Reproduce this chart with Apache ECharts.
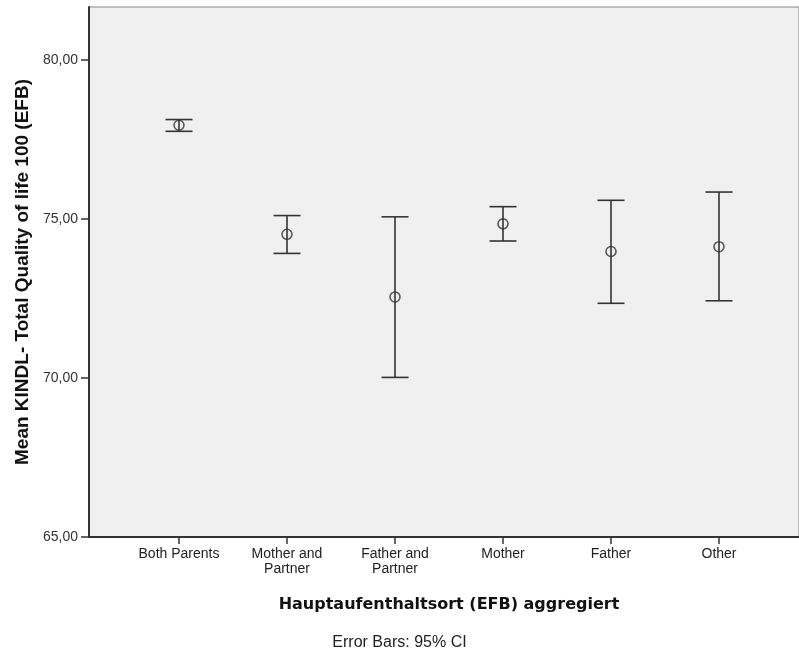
<!DOCTYPE html>
<html>
<head>
<meta charset="utf-8">
<script src="https://cdn.jsdelivr.net/npm/echarts@6/dist/echarts.min.js"></script>
<style>
  html, body { margin: 0; padding: 0; background: #fff; }
  #chart { width: 799px; height: 651px; }
</style>
</head>
<body>
<div id="chart"></div>
<script>
// values
var categories = ['Both Parents', 'Mother and\nPartner', 'Father and\nPartner', 'Mother', 'Father', 'Other']
var means = [77.95, 74.52, 72.55, 74.85, 73.98, 74.13]
var lower = [77.76, 73.92, 70.02, 74.31, 72.35, 72.43]
var upper = [78.13, 75.11, 75.07, 75.39, 75.59, 75.85]
var yTicks = [65, 70, 75, 80]
var yMin = 65
var yMax = 81.67

var chart = echarts.init(document.getElementById('chart'))

var errData = categories.map(function (c, i) {
  return [i, lower[i], upper[i]]
})

function fmt(v) {
  return v.toFixed(2).replace('.', ',')
}

chart.setOption({
  animation: false,
  textStyle: { fontFamily: 'Liberation Sans, Arial, sans-serif' },
  title: {
    text: 'Error Bars: 95% CI',
    left: 'center',
    top: 630,
    textStyle: { fontSize: 16, fontWeight: 'normal', color: '#222', fontFamily: 'Liberation Sans' }
  },
  grid: [
    // background frame
    { left: 89, right: 0, top: 7, bottom: 114, show: true, backgroundColor: '#f0f0f0', borderColor: '#888', borderWidth: 1 },
    // where the categories sit
    { left: 125, width: 648, top: 7, bottom: 114 }
  ],
  xAxis: [
    {
      gridIndex: 0,
      type: 'value',
      min: 0,
      max: 1,
      axisLine: { show: true, lineStyle: { color: '#333', width: 2 } },
      axisTick: { show: false },
      axisLabel: { show: false },
      splitLine: { show: false }
    },
    {
      gridIndex: 1,
      type: 'category',
      data: categories,
      name: 'Hauptaufenthaltsort (EFB) aggregiert',
      nameLocation: 'middle',
      nameGap: 60,
      nameTextStyle: { fontFamily: 'DejaVu Sans', fontWeight: 'bold', fontSize: 16, color: '#111' },
      axisLine: { show: false },
      axisTick: { show: true, alignWithLabel: true, length: 7, lineStyle: { color: '#333', width: 1.5 } },
      axisLabel: { fontSize: 14, color: '#222', margin: 10, lineHeight: 15, interval: 0 }
    }
  ],
  yAxis: [
    {
      gridIndex: 0,
      type: 'value',
      min: yMin,
      max: yMax,
      name: 'Mean KINDL- Total Quality of life 100 (EFB)',
      nameLocation: 'middle',
      nameGap: 54,
      nameTextStyle: { fontFamily: 'Liberation Sans', fontWeight: 'bold', fontSize: 19, color: '#111' },
      axisLine: { show: true, lineStyle: { color: '#333', width: 2 } },
      axisTick: { show: true, length: 8, customValues: yTicks, lineStyle: { color: '#333', width: 1.5 } },
      axisLabel: { fontSize: 14, color: '#333', margin: 11, customValues: yTicks, formatter: fmt },
      splitLine: { show: false }
    },
    {
      gridIndex: 1,
      type: 'value',
      min: yMin,
      max: yMax,
      show: false,
      splitLine: { show: false }
    }
  ],
  series: [
    {
      type: 'custom',
      xAxisIndex: 1,
      yAxisIndex: 1,
      data: errData,
      renderItem: function (params, api) {
        var i = api.value(0)
        var lo = api.coord([i, api.value(1)])
        var hi = api.coord([i, api.value(2)])
        var w = 13.5
        var style = { stroke: '#333', lineWidth: 1.6 }
        return {
          type: 'group',
          children: [
            { type: 'line', shape: { x1: lo[0], y1: lo[1], x2: hi[0], y2: hi[1] }, style: style },
            { type: 'line', shape: { x1: hi[0] - w, y1: hi[1], x2: hi[0] + w, y2: hi[1] }, style: style },
            { type: 'line', shape: { x1: lo[0] - w, y1: lo[1], x2: lo[0] + w, y2: lo[1] }, style: style }
          ]
        }
      }
    },
    {
      type: 'scatter',
      xAxisIndex: 1,
      yAxisIndex: 1,
      data: means,
      symbol: 'circle',
      symbolSize: 10,
      z: 5,
      itemStyle: { color: 'rgba(240,240,240,0)', borderColor: '#333', borderWidth: 1.6 }
    }
  ]
})
</script>
</body>
</html>
